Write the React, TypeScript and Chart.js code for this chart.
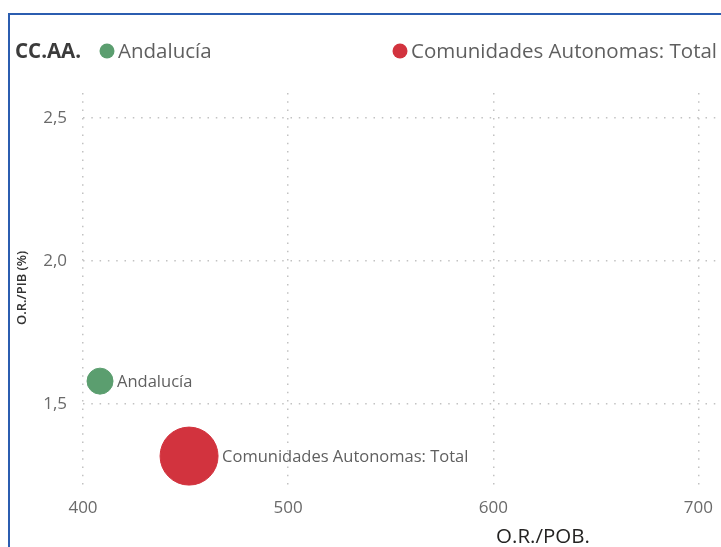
import React, { useEffect, useRef } from "react";
import { Chart, registerables } from "chart.js";

Chart.register(...registerables);

const seriesNames = ["Andalucía", "Comunidades Autonomas: Total"];
const orPob = [408.3, 451.7];
const orPib = [1.58, 1.318];
const bubbleSizes = [13, 29];
const seriesColors = ["#5b9e6f", "#d2333e"];
const xTicks = [400, 500, 600, 700];
const yTicks = [1.5, 2.0, 2.5];
const xRange = [400, 711];
const yRange = [1.196, 2.587];
const xTitle = "O.R./POB.";
const yTitle = "O.R./PIB (%)";
const legendTitle = "CC.AA.";

const FONT = "'Open Sans', 'Noto Sans', sans-serif";

const overlayPlugin = {
  id: "overlay",
  afterDatasetsDraw(chart: any) {
    const ctx = chart.ctx;
    ctx.save();
    chart.data.datasets.forEach((ds: any, i: number) => {
      const meta = chart.getDatasetMeta(i);
      meta.data.forEach((el: any) => {
        const r = el.options.radius;
        ctx.font = `16.5px ${FONT}`;
        ctx.fillStyle = "#5f5f5f";
        ctx.textAlign = "left";
        ctx.textBaseline = "middle";
        ctx.fillText(ds.label, el.x + r + 4, el.y + 1);
      });
    });
    ctx.restore();
  },
  afterDraw(chart: any) {
    const ctx = chart.ctx;
    ctx.save();
    ctx.textBaseline = "middle";
    ctx.textAlign = "left";
    ctx.font = `bold 20.5px ${FONT}`;
    ctx.fillStyle = "#3b3b3b";
    ctx.fillText(legendTitle, 15, 52);
    const itemX = [107, 400];
    seriesNames.forEach((name, i) => {
      ctx.beginPath();
      ctx.arc(itemX[i], 51, 7.5, 0, Math.PI * 2);
      ctx.fillStyle = seriesColors[i];
      ctx.fill();
      ctx.font = `20.5px ${FONT}`;
      ctx.fillStyle = "#5f5f5f";
      ctx.fillText(name, itemX[i] + 11, 52);
    });
    ctx.save();
    ctx.translate(22, 288);
    ctx.rotate(-Math.PI / 2);
    ctx.textAlign = "center";
    ctx.font = `600 13px ${FONT}`;
    ctx.fillStyle = "#333333";
    ctx.fillText(yTitle, 0, 0);
    ctx.restore();
    ctx.textAlign = "center";
    ctx.font = `20.5px ${FONT}`;
    ctx.fillStyle = "#252423";
    ctx.fillText(xTitle, 543, 537);
    ctx.restore();
  },
};

export default function App() {
  const ref = useRef<HTMLCanvasElement | null>(null);
  useEffect(() => {
    if (!ref.current) return;
    const gridOpts = { color: "#c2c2c2", lineWidth: 1.5, drawTicks: false };
    const borderOpts = { display: false, dash: [1.5, 6.8] };
    const chart = new Chart(ref.current, {
      type: "bubble",
      data: {
        datasets: seriesNames.map((name, i) => ({
          label: name,
          data: [{ x: orPob[i], y: orPib[i], r: bubbleSizes[i] }],
          backgroundColor: seriesColors[i],
          borderColor: seriesColors[i],
          borderWidth: 1,
        })),
      },
      options: {
        responsive: false,
        animation: false,
        layout: { autoPadding: false, padding: { top: 93, left: 0, right: 0, bottom: 0 } },
        plugins: { legend: { display: false }, tooltip: { enabled: false } },
        scales: {
          x: {
            type: "linear",
            min: xRange[0],
            max: xRange[1],
            afterBuildTicks: (s: any) => {
              s.ticks = xTicks.map((v) => ({ value: v }));
            },
            afterFit: (s: any) => {
              s.height = 56;
            },
            grid: gridOpts,
            border: borderOpts,
            ticks: {
              padding: 7,
              color: "#6a6a6a",
              font: { family: FONT, size: 17 },
              maxRotation: 0,
            },
          },
          y: {
            type: "linear",
            min: yRange[0],
            max: yRange[1],
            afterBuildTicks: (s: any) => {
              s.ticks = yTicks.map((v) => ({ value: v }));
            },
            afterFit: (s: any) => {
              s.width = 83;
            },
            grid: gridOpts,
            border: borderOpts,
            ticks: {
              padding: 16,
              color: "#6a6a6a",
              font: { family: FONT, size: 17 },
              callback: (v: any) => Number(v).toFixed(1).replace(".", ","),
            },
          },
        },
      },
      plugins: [overlayPlugin],
    });
    return () => chart.destroy();
  }, []);
  return (
    <div style={{ position: "fixed", left: 0, top: 0, width: 721, height: 547, background: "#fff", overflow: "hidden" }}>
      <canvas ref={ref} width={721} height={547} style={{ width: 721, height: 547, display: "block" }} />
      <div
        style={{
          position: "absolute",
          left: 8,
          top: 13,
          width: 713,
          height: 534,
          borderLeft: "2px solid #2b5db0",
          borderTop: "2px solid #2b5db0",
          boxSizing: "border-box",
          pointerEvents: "none",
        }}
      />
    </div>
  );
}
